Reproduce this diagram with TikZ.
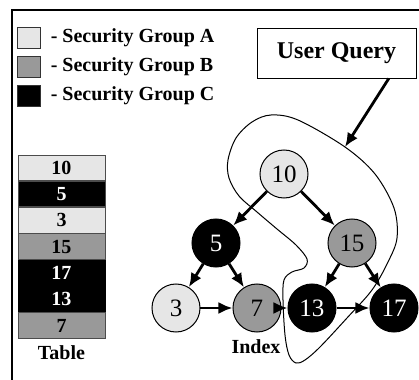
\documentclass[tikz,border=0pt]{standalone}
\usepackage{fontspec}
\setmainfont{Liberation Serif}
\usepackage{tikz}
\usetikzlibrary{
  arrows.meta,
  positioning,
}
\definecolor{groupA}{RGB}{230,230,230}
\definecolor{groupB}{RGB}{153,153,153}
\colorlet{groupC}{black}
\tikzstyle{key} = [
  rectangle,
  draw=black!80,
  minimum width=11.5pt,
  minimum height=10.5pt,
  inner sep=0pt,
]
\tikzstyle{legend} = [
  font=\bfseries,
  inner sep=1pt,
]
\tikzstyle{row} = [
  rectangle,
  draw=black!70,
  line width=0.4pt,
  minimum width=43.5pt,
  minimum height=12.75pt,
  inner sep=0pt,
  font=\bfseries,
]
\tikzstyle{vertex} = [
  circle,
  draw,
  line width=0.5pt,
  minimum size=24pt,
  inner sep=0pt,
  font=\fontsize{12.5}{12.5}\selectfont,
]
\tikzstyle{link} = [
  -{Latex[length=7pt,width=6pt]},
  line width=1.4pt,
]

\begin{document}
\begin{tikzpicture}[x=0.5pt,y=-0.5pt,node distance=0mm and 0mm]
      \useasboundingbox (0,0) rectangle (419,380);
      \draw[line width=1pt] (12,380) -- (12,10) -- (419,10);

      % legend
      \node[key,fill=groupA] (keyA) at (28.5,38)   {};
      \node[key,fill=groupB] (keyB) at (28.5,66.5) {};
      \node[key,fill=groupC] (keyC) at (28.5,95.5) {};
      \node[legend,right=4pt of keyA] (labA) {- Security Group A};
      \node[legend,right=4pt of keyB] (labB) {- Security Group B};
      \node[legend,right=4pt of keyC] (labC) {- Security Group C};

      % table
      \node[row,fill=groupA] (tab1) at (61.5,167.75) {10};
      \node[row,fill=groupC,text=white] (tab2) [below=of tab1] {5};
      \node[row,fill=groupA] (tab3) [below=of tab2] {3};
      \node[row,fill=groupB] (tab4) [below=of tab3] {15};
      \node[row,fill=groupC,draw=groupC,text=white] (tab5) [below=of tab4] {17};
      \node[row,fill=groupC,draw=groupC,text=white] (tab6) [below=of tab5] {13};
      \node[row,fill=groupB] (tab7) [below=of tab6] {7};
      \node[font=\bfseries] (tablabel) [below=of tab7] {Table};

      % index
      \node[vertex,fill=groupA] (v10) at (284,174) {10};
      \node[vertex,fill=groupC,text=white] (v5) at (216,243) {5};
      \node[vertex,fill=groupB] (v15) at (352,243) {15};
      \node[vertex,fill=groupA] (v3) at (176,308) {3};
      \node[vertex,fill=groupB] (v7) at (257,308) {7};
      \node[vertex,fill=groupC,text=white] (v13) at (312,308) {13};
      \node[vertex,fill=groupC,text=white] (v17) at (394,308) {17};
      \node[font=\bfseries] (indexlabel) at (256,347) {Index};

      \draw[link] (v10) -- (v5);
      \draw[link] (v10) -- (v15);
      \draw[link] (v5) -- (v3);
      \draw[link] (v5) -- (v7);
      \draw[link] (v15) -- (v13);
      \draw[link] (v15) -- (v17);
      \draw[link] (v3) -- (v7);
      \draw[link] (v7) -- (v13);
      \draw[link] (v13) -- (v17);

      % query
      \node[rectangle,draw,line width=0.5pt,minimum width=79.5pt,minimum height=25pt,font=\fontsize{12}{14}\selectfont\bfseries] (query) at (336.5,53) {User Query};
      \coordinate (hit) at (345,147);
      \draw[link] (query.-26) -- (hit);

      \draw[line width=0.5pt] plot[smooth cycle,tension=0.55] coordinates {
        (271,115) (298,120) (345,147) (375,174) (394,208) (397,238)
        (388,262) (372,290) (347,318) (320,347) (305,360) (296,363)
        (289,355) (285,335) (283,300) (284,280) (292,272) (304,268)
        (307,259) (296,245) (277,229) (257,212) (239,196) (229,178)
        (228,160) (236,138) (252,122)};

    \end{tikzpicture}
\end{document}
